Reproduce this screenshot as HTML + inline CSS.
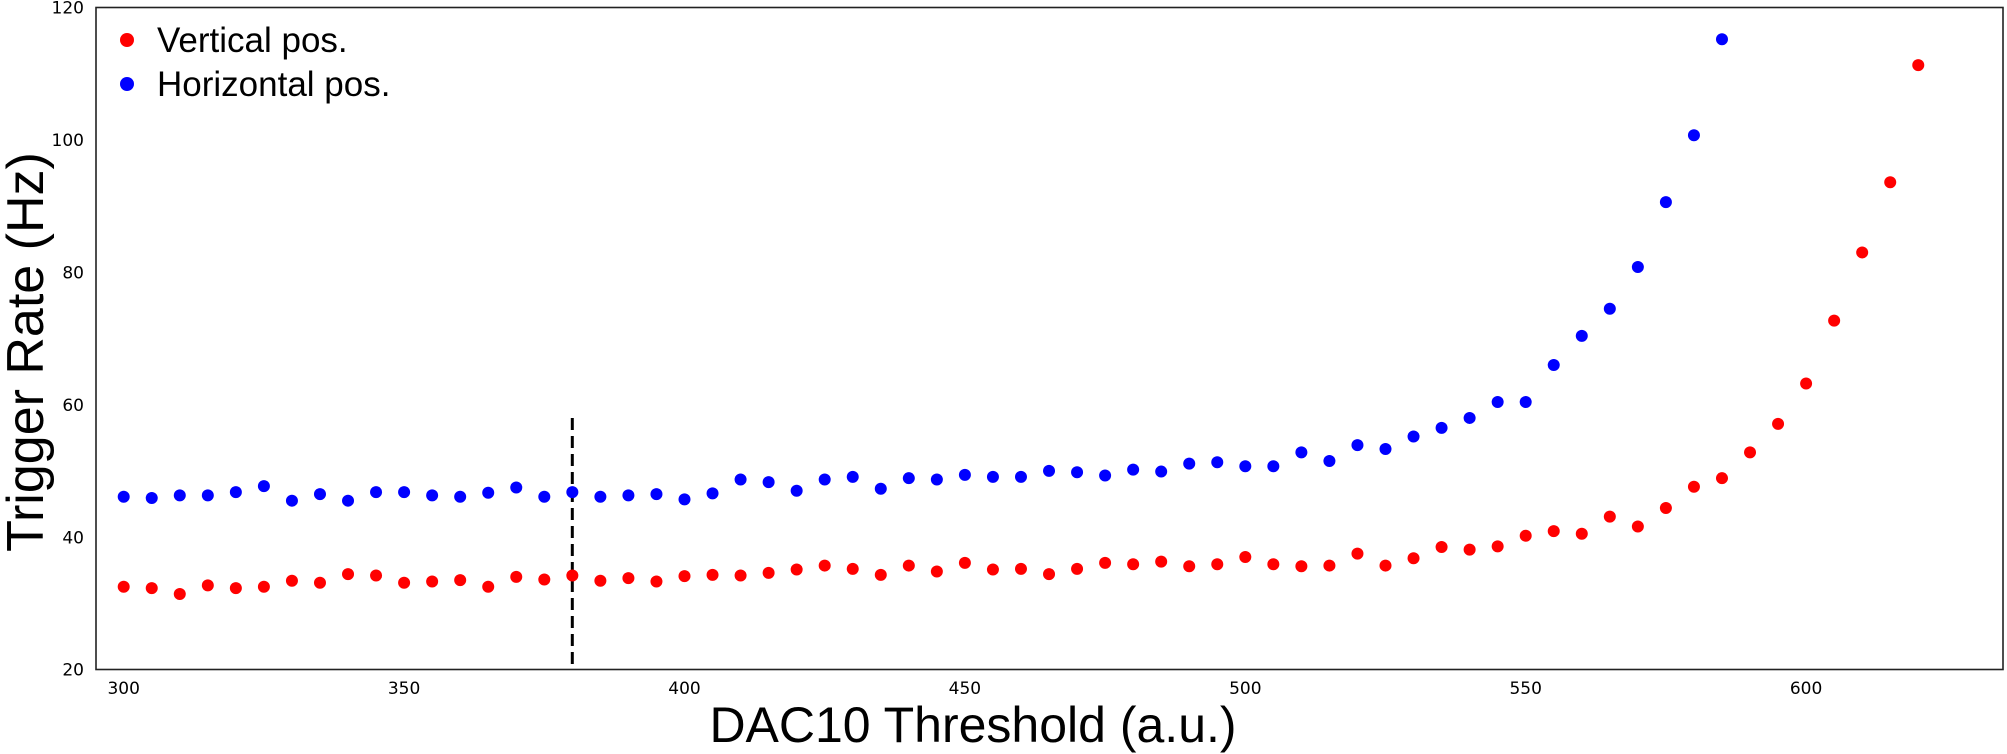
<!DOCTYPE html>
<html><head><meta charset="utf-8"><style>body{margin:0;background:#fff}svg{display:block}text{font-family:"DejaVu Sans","Liberation Sans",sans-serif;fill:#000}.L{font-family:"Liberation Sans",Arial,sans-serif}</style></head>
<body>
<svg id="s" width="2007" height="754" xmlns="http://www.w3.org/2000/svg">
<rect x="96" y="7.5" width="1907" height="662" fill="none" stroke="#222" stroke-width="1.6"/>
<g font-size="17" text-anchor="end">
<text x="84" y="675.5">20</text><text x="84" y="543.5">40</text><text x="84" y="411">60</text><text x="84" y="278.5">80</text><text x="84" y="146">100</text><text x="84" y="13.5">120</text>
</g>
<g font-size="17" text-anchor="middle">
<text x="123.7" y="694">300</text><text x="404.1" y="694">350</text><text x="684.5" y="694">400</text><text x="964.9" y="694">450</text><text x="1245.3" y="694">500</text><text x="1525.7" y="694">550</text><text x="1806.1" y="694">600</text>
</g>
<text class="L" x="973" y="742" font-size="50" text-anchor="middle">DAC10 Threshold (a.u.)</text>
<text class="L" transform="translate(43,352) rotate(-90)" font-size="52" text-anchor="middle">Trigger Rate (Hz)</text>
<line x1="572.3" y1="418" x2="572.3" y2="670" stroke="#000" stroke-width="3" stroke-dasharray="12,6"/>
<g id="pts"></g>
<circle cx="127" cy="40" r="7" fill="#f00"/><text class="L" x="157" y="52" font-size="35">Vertical pos.</text>
<circle cx="127" cy="84" r="7" fill="#00f"/><text class="L" x="157" y="96" font-size="35">Horizontal pos.</text>
</svg>
<script>
var red=[32.5,32.3,31.4,32.7,32.3,32.5,33.4,33.1,34.4,34.2,33.1,33.3,33.5,32.5,34.0,33.6,34.2,33.4,33.8,33.3,34.1,34.3,34.2,34.6,35.1,35.7,35.2,34.3,35.7,34.8,36.1,35.1,35.2,34.4,35.2,36.1,35.9,36.3,35.6,35.9,37.0,35.9,35.6,35.7,37.5,35.7,36.8,38.5,38.1,38.6,40.2,40.9,40.5,43.1,41.6,44.4,47.6,48.9,52.8,57.1,63.2,72.7,83.0,93.6,111.3];
var blue=[46.1,45.9,46.3,46.3,46.8,47.7,45.5,46.5,45.5,46.8,46.8,46.3,46.1,46.7,47.5,46.1,46.8,46.1,46.3,46.5,45.7,46.6,48.7,48.3,47.0,48.7,49.1,47.3,48.9,48.7,49.4,49.1,49.1,50.0,49.8,49.3,50.2,49.9,51.1,51.3,50.7,50.7,52.8,51.5,53.9,53.3,55.2,56.5,58.0,60.4,60.4,66.0,70.4,74.5,80.8,90.6,100.7,115.2];
var g=document.getElementById('pts'),h='';
function X(v){return 123.7+(v-300)*5.608}function Y(v){return 669.5-(v-20)*6.62}
red.forEach(function(v,i){h+='<circle cx="'+X(300+5*i)+'" cy="'+Y(v)+'" r="6" fill="#f00"/>'});
blue.forEach(function(v,i){h+='<circle cx="'+X(300+5*i)+'" cy="'+Y(v)+'" r="6" fill="#00f"/>'});
g.innerHTML=h;
</script>
</body></html>
